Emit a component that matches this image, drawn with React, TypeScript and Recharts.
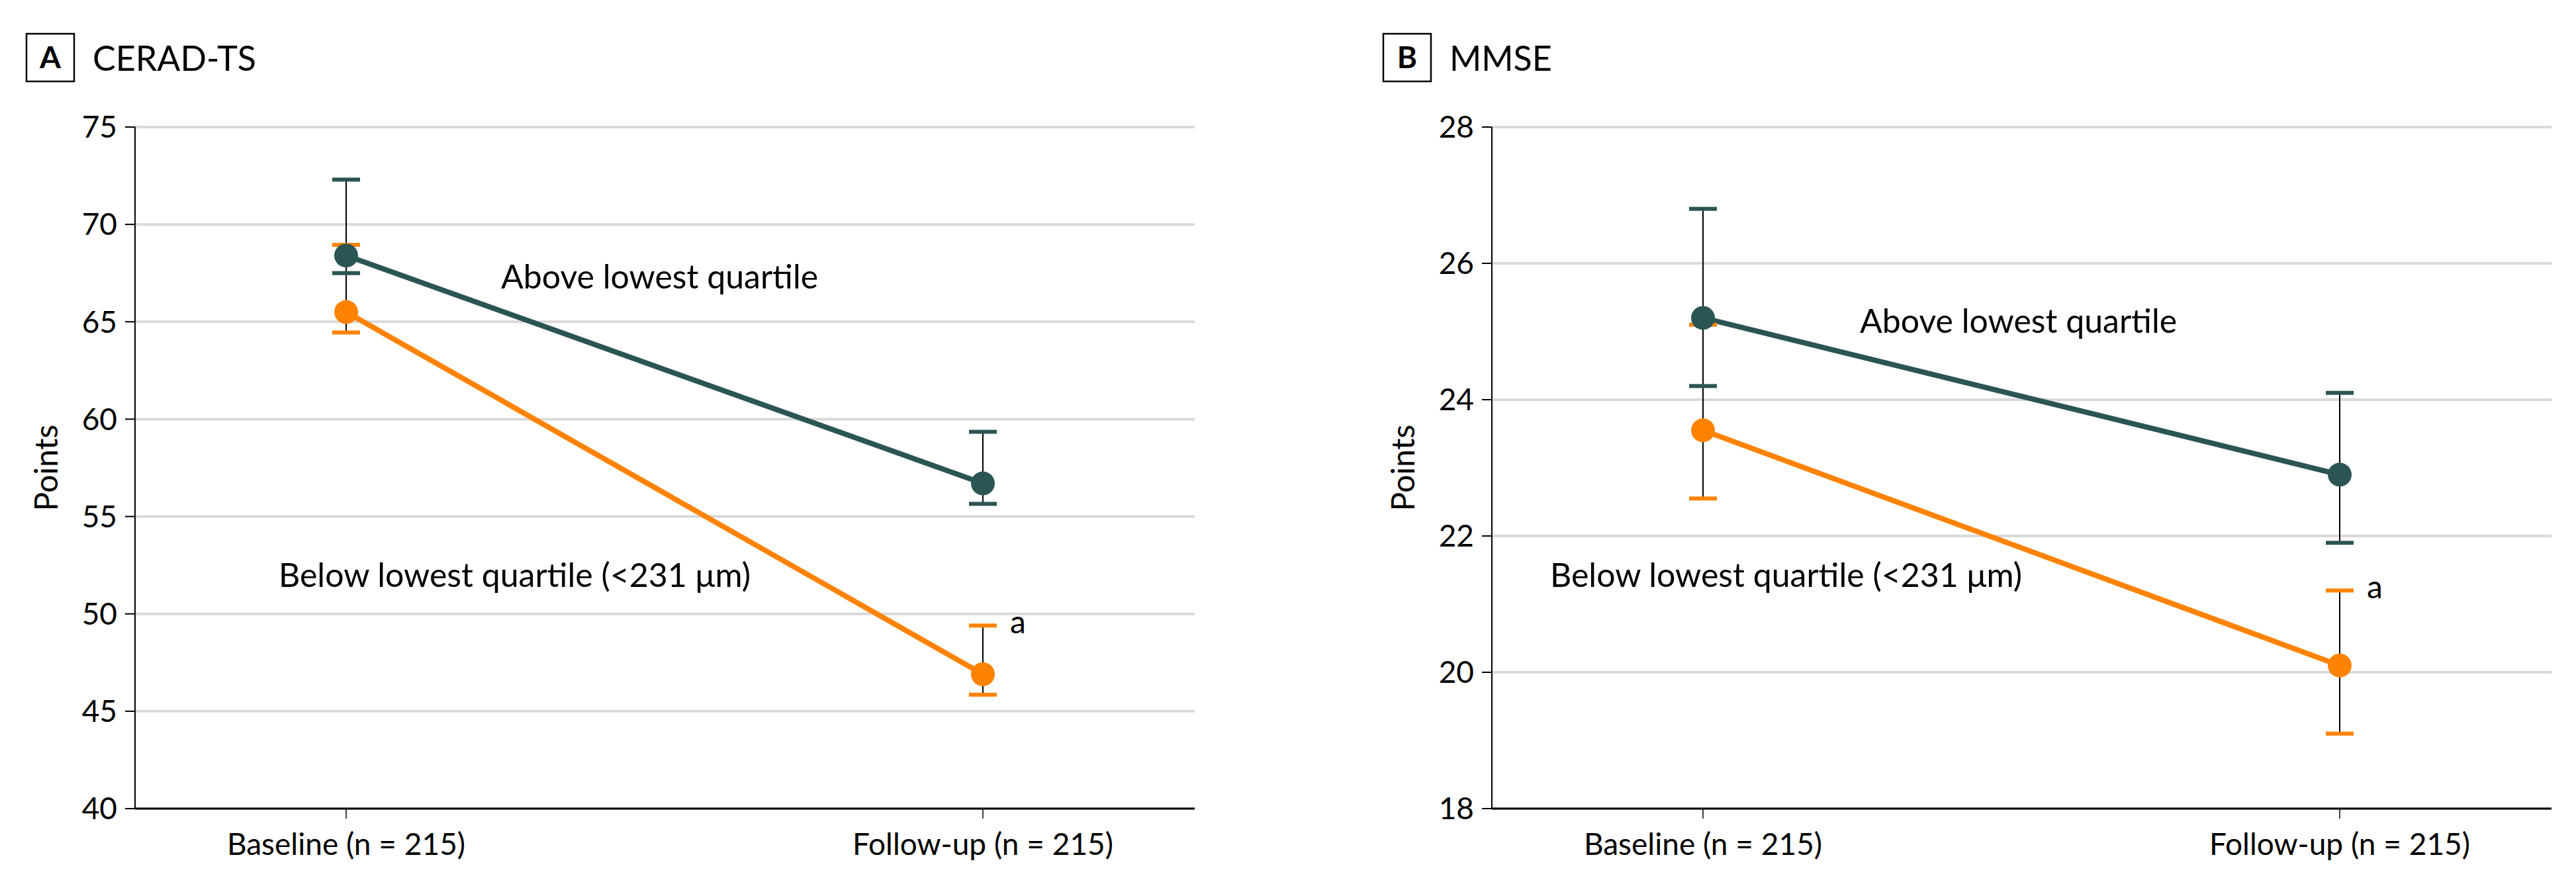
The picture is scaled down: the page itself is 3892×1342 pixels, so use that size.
import React from "react";
import { LineChart, Line, XAxis, YAxis, CartesianGrid, ErrorBar, LabelList } from "recharts";

const TEAL = "#2b5553";
const ORANGE = "#ff8300";
const FONT = "Lato, 'Open Sans', sans-serif";

const categories = ["Baseline (n = 215)", "Follow-up (n = 215)"];

// A: CERAD-TS
const ceradTicks = [40, 45, 50, 55, 60, 65, 70, 75];
const ceradAboveMean = [68.4, 56.7];
const ceradAboveLow = [67.5, 55.65];
const ceradAboveHigh = [72.3, 59.35];
const ceradBelowMean = [65.5, 46.9];
const ceradBelowLow = [64.45, 45.85];
const ceradBelowHigh = [68.95, 49.4];

// B: MMSE
const mmseTicks = [18, 20, 22, 24, 26, 28];
const mmseAboveMean = [25.2, 22.9];
const mmseAboveLow = [24.2, 21.9];
const mmseAboveHigh = [26.8, 24.1];
const mmseBelowMean = [23.55, 20.1];
const mmseBelowLow = [22.55, 19.1];
const mmseBelowHigh = [25.1, 21.2];

function buildRows(aMean: number[], aLow: number[], aHigh: number[], bMean: number[], bLow: number[], bHigh: number[]) {
  return categories.map((name, i) => ({
    name,
    above: aMean[i],
    aboveLow: aLow[i],
    aboveHigh: aHigh[i],
    aboveErr: [aMean[i] - aLow[i], aHigh[i] - aMean[i]],
    below: bMean[i],
    belowLow: bLow[i],
    belowHigh: bHigh[i],
    belowErr: [bMean[i] - bLow[i], bHigh[i] - bMean[i]],
  }));
}

const capShape = (color: string) => (p: any) => (
  <rect key={`cap-${p.index}`} x={p.cx - 21} y={p.cy - 3} width={42} height={6} fill={color} />
);

const sigLabel = (p: any) =>
  p.index === 1 ? (
    <text key="sig" x={p.x + 41} y={p.y + 12} fontSize={48} fontFamily={FONT} fill="#000">
      a
    </text>
  ) : null;

interface PanelProps {
  left: number;
  letter: string;
  title: string;
  domain: [number, number];
  ticks: number[];
  rows: any[];
  aboveText: [number, number];
  belowText: [number, number];
}

function Panel({ left, letter, title, domain, ticks, rows, aboveText, belowText }: PanelProps) {
  const W = 1842;
  const H = 1342;
  return (
    <div style={{ position: "absolute", left, top: 0, width: W, height: H }}>
      <LineChart width={W} height={H} data={rows} margin={{ top: 192, right: 37, bottom: 20, left: 54 }}>
        <CartesianGrid horizontal vertical={false} stroke="#d9d9d9" strokeWidth={4} />
        <XAxis
          dataKey="name"
          interval={0}
          padding={{ left: 319, right: 320 }}
          height={100}
          tickSize={15}
          tickMargin={22}
          axisLine={{ stroke: "#000", strokeWidth: 3 }}
          tickLine={{ stroke: "#000", strokeWidth: 1.5 }}
          tick={{ fill: "#000", fontSize: 46, fontFamily: FONT }}
        />
        <YAxis
          domain={domain}
          ticks={ticks}
          interval={0}
          width={150}
          tickSize={15}
          tickMargin={12}
          axisLine={{ stroke: "#000", strokeWidth: 2 }}
          tickLine={{ stroke: "#000", strokeWidth: 2 }}
          tick={{ fill: "#000", fontSize: 46, fontFamily: FONT }}
        />
        <Line dataKey="belowLow" stroke="none" dot={capShape(ORANGE)} activeDot={false} isAnimationActive={false} />
        <Line dataKey="belowHigh" stroke="none" dot={capShape(ORANGE)} activeDot={false} isAnimationActive={false}>
          <LabelList content={sigLabel} />
        </Line>
        <Line dataKey="aboveLow" stroke="none" dot={capShape(TEAL)} activeDot={false} isAnimationActive={false} />
        <Line dataKey="aboveHigh" stroke="none" dot={capShape(TEAL)} activeDot={false} isAnimationActive={false} />
        <Line
          type="linear"
          dataKey="below"
          stroke={ORANGE}
          strokeWidth={8}
          dot={{ r: 18, fill: ORANGE, stroke: "none" }}
          activeDot={false}
          isAnimationActive={false}
        >
          <ErrorBar dataKey="belowErr" direction="y" width={0} stroke="#000" strokeWidth={2} />
        </Line>
        <Line
          type="linear"
          dataKey="above"
          stroke={TEAL}
          strokeWidth={8}
          dot={{ r: 18, fill: TEAL, stroke: "none" }}
          activeDot={false}
          isAnimationActive={false}
        >
          <ErrorBar dataKey="aboveErr" direction="y" width={0} stroke="#000" strokeWidth={2} />
        </Line>
      </LineChart>
      <svg
        width={W}
        height={H}
        style={{ position: "absolute", left: 0, top: 0, pointerEvents: "none" }}
        fontFamily={FONT}
      >
        <rect x={40} y={51} width={72} height={72} fill="none" stroke="#000" strokeWidth={2.5} />
        <text x={76} y={103} textAnchor="middle" fontSize={46} fontWeight="bold" fill="#000">
          {letter}
        </text>
        <text x={140} y={107} fontSize={52} fill="#000">
          {title}
        </text>
        <text
          x={68}
          y={707}
          fontSize={48}
          fill="#000"
          textAnchor="middle"
          dominantBaseline="central"
          transform="rotate(-90 68 707)"
        >
          Points
        </text>
        <text x={aboveText[0]} y={aboveText[1]} fontSize={50} fill="#000">
          Above lowest quartile
        </text>
        <text x={belowText[0]} y={belowText[1]} fontSize={50} fill="#000">
          Below lowest quartile (&lt;231 μm)
        </text>
      </svg>
    </div>
  );
}

export default function App() {
  const ceradRows = buildRows(ceradAboveMean, ceradAboveLow, ceradAboveHigh, ceradBelowMean, ceradBelowLow, ceradBelowHigh);
  const mmseRows = buildRows(mmseAboveMean, mmseAboveLow, mmseAboveHigh, mmseBelowMean, mmseBelowLow, mmseBelowHigh);
  return (
    <div
      style={{
        position: "absolute",
        left: 0,
        top: 0,
        width: 3892,
        height: 1342,
        background: "#fff",
        overflow: "hidden",
      }}
    >
      <Panel
        left={0}
        letter="A"
        title="CERAD-TS"
        domain={[40, 75]}
        ticks={ceradTicks}
        rows={ceradRows}
        aboveText={[757, 436]}
        belowText={[421, 887]}
      />
      <Panel
        left={2050}
        letter="B"
        title="MMSE"
        domain={[18, 28]}
        ticks={mmseTicks}
        rows={mmseRows}
        aboveText={[760, 503]}
        belowText={[292, 887]}
      />
    </div>
  );
}
